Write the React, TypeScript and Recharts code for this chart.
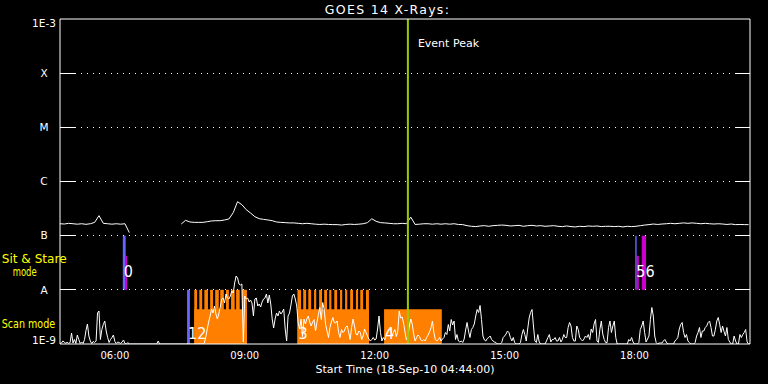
import React from 'react';
import { ComposedChart, Line, XAxis, YAxis, ReferenceLine, ReferenceArea, Label } from 'recharts';

// time axis: minutes after 18-Sep-10 04:44:00
const startMinute = 4 * 60 + 44;
const spanMinutes = 956;

// GOES 14 long channel, in units of 1E-7 W/m^2, one value every 6 min (null = no data)
const goesStep = 6;
const goesFlux = [
  1.66, 1.64, 1.69, 1.66, 1.63, 1.66, 1.62, 1.66, 1.76, 2.34,
  1.69, 1.66, 1.63, 1.66, 1.63, 1.66, 1.14, null, null, null,
  null, null, null, null, null, null, null, null, 1.64, 1.92,
  1.79, 1.76, 1.76, 1.76, 1.81, 1.87, 1.89, 1.89, 1.95, 2.03,
  2.66, 4.24, 3.73, 3.02, 2.62, 2.24, 2.06, 2.0, 1.95, 1.89,
  1.79, 1.76, 1.74, 1.72, 1.72, 1.69, 1.66, 1.69, 1.66, 1.63,
  1.61, 1.63, 1.61, 1.6, 1.6, 1.57, 1.61, 1.63, 1.61, 1.63,
  1.66, 1.74, 2.05, 1.84, 1.74, 1.72, 1.69, 1.66, 1.66, 1.69,
  1.66, 2.2, 1.61, 1.63, 1.66, 1.66, 1.63, 1.66, 1.63, 1.66,
  1.63, 1.66, 1.61, 1.6, 1.53, 1.49, 1.47, 1.51, 1.53, 1.49,
  1.53, 1.55, 1.57, 1.55, 1.51, 1.53, 1.55, 1.49, 1.53, 1.55,
  1.51, 1.53, 1.49, 1.51, 1.53, 1.49, 1.47, 1.51, 1.47, 1.45,
  1.49, 1.47, 1.51, 1.49, 1.51, 1.47, 1.49, 1.49, 1.47, 1.49,
  1.45, 1.49, 1.47, 1.49, 1.53, 1.57, 1.6, 1.64, 1.61, 1.64,
  1.66, 1.69, 1.66, 1.69, 1.72, 1.69, 1.72, 1.69, 1.66, 1.69,
  1.66, 1.64, 1.66, 1.64, 1.61, 1.64, 1.6, 1.61, 1.6, 1.6,
];

// scan-mode signal (arbitrary units), one value every 2 min
const scanStep = 2;
const scanSignal = [
  0, 0.2, 0.6, 0.4, 0.1, 0.4, 0.1, 0.3, 2.2, 0.2,
  0.9, 0.1, 1.8, 0.9, 0.1, 0.4, 0.1, 0.9, 2.7, 4.0,
  1.6, 0.6, 0.1, 0.5, 0.3, 0.6, 6.2, 6.6, 0.9, 2.9,
  3.9, 4.6, 2.6, 1.3, 0.3, 0.9, 1.3, 1.8, 0.5, 0.1,
  0.4, 0.3, 0.1, 0.4, 0.8, 0.1, 0, 0.3, 0, 0,
  0, 0, 0, 0, 0, 0, 0, 0, 0, 0,
  0, 0, 0, 0, 0, 0, 0, 0, 0.6, 0,
  0, 0, 0, 0, 0, 0, 0, 0, 0, 0,
  0, 0, 0, 0, 0, 0, 0, 0, 0, 0,
  0, 0, 0, 0, 0, 0, 0, 0, 0, 0,
  0.2, 1.4, 3.0, 4.4, 5.6, 7.0, 6.2, 7.6, 6.0, 5.0,
  6.0, 7.4, 9.0, 9.2, 8.2, 10.0, 9.2, 9.0, 9.6, 10.6,
  10.2, 12.2, 13.6, 13.2, 12.0, 11.8, 12.0, 0.4, 9.6, 9.0,
  9.2, 8.4, 8.8, 8.2, 5.6, 9.0, 9.2, 7.6, 8.0, 7.4,
  8.4, 9.0, 9.2, 10.0, 8.2, 9.8, 8.0, 5.0, 3.2, 5.0,
  6.2, 5.6, 6.6, 6.0, 6.4, 7.0, 3.0, 0.6, 5.6, 6.2,
  7.8, 9.6, 10.0, 9.0, 7.6, 4.2, 3.0, 5.0, 1.5, 5.0,
  4.0, 5.0, 5.6, 4.4, 3.6, 4.4, 4.9, 2.6, 4.3, 5.9,
  7.3, 4.9, 8.3, 6.9, 3.9, 2.6, 1.3, 3.3, 4.4, 5.3,
  4.3, 4.2, 4.6, 2.3, 1.3, 2.9, 2.3, 2.6, 3.4, 3.6,
  2.3, 0.9, 3.3, 5.0, 3.6, 2.0, 1.8, 2.6, 2.3, 0.9,
  1.6, 3.0, 2.3, 1.6, 1.0, 0.6, 0.9, 1.3, 0.8, 1.0,
  3.0, 5.6, 2.3, 0.6, 1.3, 0.8, 1.8, 2.6, 3.0, 3.2,
  1.6, 2.3, 2.9, 1.5, 2.6, 6.6, 5.2, 5.4, 4.2, 2.4,
  0.8, 1.6, 3.6, 5.0, 4.0, 2.0, 0.6, 1.3, 1.8, 1.5,
  0.8, 0.6, 0.9, 0.6, 1.3, 1.8, 2.4, 3.2, 4.6, 2.3,
  0.9, 0.6, 0.9, 1.3, 0.6, 1.0, 1.3, 2.3, 1.9, 3.9,
  2.6, 4.9, 3.8, 4.6, 0.9, 1.9, 0.6, 0.4, 0.6, 0.3,
  1.0, 2.8, 4.3, 2.6, 1.3, 2.9, 3.3, 4.0, 5.6, 6.9,
  6.3, 7.7, 4.9, 1.6, 0.8, 0.6, 1.1, 1.3, 1.6, 0.9,
  0.6, 0.4, 0.3, 0, 0, 0, 0.3, 1.3, 1.6, 2.0,
  2.6, 2.3, 1.3, 0.6, 1.3, 0.3, 0, 0, 0, 0.3,
  1.9, 2.9, 1.9, 0.6, 3.0, 5.2, 6.3, 6.9, 3.6, 0.6,
  0.3, 1.9, 0.4, 0, 0, 0, 0, 0.6, 1.3, 1.9,
  0.4, 0.9, 0.9, 1.3, 0.6, 0.6, 1.3, 0.4, 0.9, 1.9,
  1.3, 1.3, 3.3, 4.3, 3.6, 1.3, 0.6, 0.6, 3.6, 2.9,
  1.3, 0.9, 0.6, 1.0, 1.6, 1.3, 1.9, 0.9, 3.0, 2.3,
  4.0, 4.9, 0.6, 0.3, 2.9, 4.6, 2.0, 0.9, 0.3, 0.3,
  3.3, 4.6, 2.3, 3.6, 4.6, 1.3, 0, 0, 0, 0,
  0, 0, 0, 0, 0.9, 0.6, 1.3, 0.4, 0, 0,
  0, 0.3, 2.9, 3.6, 4.6, 2.3, 0.4, 1.0, 1.6, 4.9,
  7.3, 5.6, 1.6, 0.3, 0, 0.2, 0.2, 0.2, 0.6, 0.9,
  0.4, 0, 0, 0, 0, 0, 0.6, 0.9, 1.3, 3.0,
  3.9, 4.3, 2.3, 1.3, 1.9, 0.6, 0.3, 0, 0, 0,
  0.3, 1.6, 2.3, 3.3, 1.3, 2.6, 2.6, 3.3, 3.6, 4.3,
  4.6, 3.3, 1.6, 1.6, 2.9, 4.6, 5.3, 3.9, 2.3, 3.6,
  2.5, 1.6, 3.3, 0.9, 0.4, 0, 0, 1.6, 0.6, 0,
  0, 1.9, 1.3, 1.9, 2.3, 2.9, 0.4, 0, 0,
];

const fluxTicks = [1e-9, 1e-8, 1e-7, 1e-6, 1e-5, 1e-4, 1e-3];
const fluxLabels = ['1E-9', 'A', 'B', 'C', 'M', 'X', '1E-3'];
const gridLevels = [1e-8, 1e-7, 1e-6, 1e-5, 1e-4];
const labelTicks = [76, 256, 436, 616, 796];
const hourTicks = [16, 76, 136, 196, 256, 316, 376, 436, 496, 556, 616, 676, 736, 796, 856, 916];
const eventPeak = 482;

// observing programme (start, end minute)
const rasterStripes = [
  [186, 190], [193, 197], [200, 205], [208, 212], [215, 220], [222, 227], [230, 234], [237, 242], [244, 249], [252, 259],
  [329, 334], [337, 341], [344, 348], [352, 355], [359, 363], [366, 370], [373, 376], [380, 384], [388, 391], [395, 398],
  [402, 406], [410, 413], [416, 420], [424, 428],
];
const rasterBlocks = [[186, 259], [329, 428], [449, 529]];
const rasterBlockTop = 4.4e-9;
const scanStarts = [[176, 180]];
const sitStareStarts = [[87, 91], [797, 799]];
const sitStarePartial = [[90, 93], [799, 802]];
const sitStarePartialTop = 4.25e-8;
const sitStareFull = [[806, 812]];
const sitStareNames = ['0', '56'];
const scanNames = [
  { range: scanStarts[0], text: '12' },
  { range: rasterBlocks[1], text: '3' },
  { range: rasterBlocks[2], text: '4' },
];

const goesData = goesFlux.map((v, i) => ({ t: i * goesStep, flux: v == null ? null : v * 1e-7 }));
const scanData = scanSignal.map((v, i) => ({ t: i * scanStep, signal: v }));

const font = 'DejaVu Sans, sans-serif';
const WHITE = '#ffffff';
const YELLOW = '#ffff00';
const ORANGE = '#ff8000';
const BLUE = '#6464ff';
const MAGENTA = '#cc00cc';

const clock = (t: number) => {
  const m = startMinute + t;
  return `${String(Math.floor(m / 60)).padStart(2, '0')}:${String(m % 60).padStart(2, '0')}`;
};

const FluxTick = (p: any) => {
  const idx = fluxTicks.findIndex((v) => Math.abs(v - p.payload.value) / v < 1e-6);
  const shift = idx === 0 ? -4 : idx === fluxTicks.length - 1 ? 4 : 0;
  return (
    <text x={p.x} y={p.y + shift} dy="0.36em" textAnchor="middle" fill={WHITE} fontSize={10.5} fontFamily={font}>
      {fluxLabels[idx]}
    </text>
  );
};

const HourTick = (p: any) => {
  const major = labelTicks.includes(p.payload.value);
  return <line x1={p.x} x2={p.x} y1={p.y} y2={p.y + (major ? 7 : 3)} stroke={WHITE} shapeRendering="crispEdges" />;
};

const gridShape = (p: any) => (
  <g shapeRendering="crispEdges">
    <line x1={p.x1} x2={p.x1 + 15} y1={p.y1} y2={p.y2} stroke={WHITE} />
    <line x1={p.x1 + 15} x2={p.x2 - 14} y1={p.y1} y2={p.y2} stroke={WHITE} strokeDasharray="1 5" />
    <line x1={p.x2 - 14} x2={p.x2} y1={p.y1} y2={p.y2} stroke={WHITE} />
  </g>
);

const obsLabel = (text: string, lift: number) => (props: any) => {
  const vb = props.viewBox;
  return (
    <text x={vb.x + 1} y={vb.y + vb.height - lift} fill={WHITE} fontSize={16}
      fontFamily="'Liberation Sans Narrow', 'DejaVu Sans Condensed', sans-serif">
      {text}
    </text>
  );
};

const peakLabel = (props: any) => {
  const vb = props.viewBox;
  return (
    <text x={vb.x + 10} y={vb.y + 28} fill={WHITE} fontSize={11} fontFamily={font}>
      Event Peak
    </text>
  );
};

export default function App() {
  return (
    <div style={{ position: 'absolute', left: 0, top: 0, width: 768, height: 384, background: '#000' }}>
      <ComposedChart width={768} height={384} margin={{ top: 0, right: 18, bottom: 0, left: 0 }}>
        <XAxis xAxisId="t" orientation="top" type="number" domain={[0, spanMinutes]} allowDataOverflow
          ticks={hourTicks} interval={0} height={19} tickSize={0} tickMargin={0} tickLine={false}
          axisLine={{ stroke: WHITE }} tick={HourTick} />
        <XAxis xAxisId="b" dataKey="t" type="number" domain={[0, spanMinutes]} allowDataOverflow
          ticks={labelTicks} interval={0} height={40} tickSize={0} tickMargin={7.5} tickLine={false}
          axisLine={{ stroke: WHITE }} tickFormatter={clock}
          tick={{ fill: WHITE, fontSize: 10, fontFamily: font }}>
          <Label value="Start Time (18-Sep-10 04:44:00)" position="insideBottom" offset={11}
            fill={WHITE} fontSize={11} fontFamily={font} />
        </XAxis>
        <YAxis yAxisId="flux" type="number" scale="log" domain={[1e-9, 1e-3]} allowDataOverflow
          ticks={fluxTicks} interval={0} width={60} tickSize={0} tickMargin={16} tickLine={false}
          axisLine={{ stroke: WHITE }} tick={FluxTick} />
        <YAxis yAxisId="scan" type="number" domain={[0, 65]} allowDataOverflow hide />

        {rasterBlocks.map(([a, b], i) => (
          <ReferenceArea key={`blk${i}`} xAxisId="b" yAxisId="flux" x1={a} x2={b} y1={1e-9} y2={rasterBlockTop}
            fill={ORANGE} fillOpacity={1} stroke="none" />
        ))}
        {rasterStripes.map(([a, b], i) => (
          <ReferenceArea key={`str${i}`} xAxisId="b" yAxisId="flux" x1={a} x2={b} y1={1e-9} y2={1e-8}
            fill={ORANGE} fillOpacity={1} stroke="none" />
        ))}
        {scanStarts.map(([a, b], i) => (
          <ReferenceArea key={`sb${i}`} xAxisId="b" yAxisId="flux" x1={a} x2={b} y1={1e-9} y2={1e-8}
            fill={BLUE} fillOpacity={1} stroke="none" />
        ))}
        {sitStareStarts.map(([a, b], i) => (
          <ReferenceArea key={`ssb${i}`} xAxisId="b" yAxisId="flux" x1={a} x2={b} y1={1e-8} y2={1e-7}
            fill={BLUE} fillOpacity={1} stroke="none" />
        ))}
        {sitStarePartial.map(([a, b], i) => (
          <ReferenceArea key={`ssp${i}`} xAxisId="b" yAxisId="flux" x1={a} x2={b} y1={1e-8} y2={sitStarePartialTop}
            fill={MAGENTA} fillOpacity={1} stroke="none" />
        ))}
        {sitStareFull.map(([a, b], i) => (
          <ReferenceArea key={`ssf${i}`} xAxisId="b" yAxisId="flux" x1={a} x2={b} y1={1e-8} y2={1e-7}
            fill={MAGENTA} fillOpacity={1} stroke="none" />
        ))}

        {gridLevels.map((v) => (
          <ReferenceLine key={`g${v}`} xAxisId="b" yAxisId="flux" y={v} shape={gridShape} />
        ))}
        <ReferenceLine xAxisId="b" yAxisId="flux" x={spanMinutes} stroke={WHITE} ifOverflow="visible" />

        <Line xAxisId="b" yAxisId="scan" data={scanData} dataKey="signal" type="linear" stroke={WHITE}
          strokeWidth={1} dot={false} activeDot={false} isAnimationActive={false} />
        <Line xAxisId="b" yAxisId="flux" data={goesData} dataKey="flux" type="linear" stroke={WHITE}
          strokeWidth={1} dot={false} activeDot={false} connectNulls={false} isAnimationActive={false} />

        {sitStareStarts.map(([a, b], i) => (
          <ReferenceArea key={`ssl${i}`} xAxisId="b" yAxisId="flux" x1={a} x2={b} y1={1e-8} y2={1e-7}
            fill="none" stroke="none" label={obsLabel(sitStareNames[i], 13)} />
        ))}
        {scanNames.map(({ range, text }, i) => (
          <ReferenceArea key={`scl${i}`} xAxisId="b" yAxisId="flux" x1={range[0]} x2={range[1]} y1={1e-9} y2={1e-8}
            fill="none" stroke="none" label={obsLabel(text, 5)} />
        ))}

        <ReferenceLine xAxisId="b" yAxisId="flux" x={eventPeak} stroke="#99cc00" strokeWidth={2} label={peakLabel} />
      </ComposedChart>

      <svg width={768} height={384} style={{ position: 'absolute', left: 0, top: 0, pointerEvents: 'none' }}>
        <text x={387.5} y={13.5} textAnchor="middle" fill={WHITE} fontSize={12.5} letterSpacing={1.3} fontFamily={font}>
          GOES 14 X-Rays:
        </text>
        <text x={1.7} y={262.5} fill={YELLOW} fontSize={11.5} fontFamily={font}
          textLength={65} lengthAdjust="spacingAndGlyphs">Sit &amp; Stare</text>
        <text x={12.7} y={276} fill={YELLOW} fontSize={11.5} fontFamily={font}
          textLength={24} lengthAdjust="spacingAndGlyphs">mode</text>
        <text x={1.7} y={328.3} fill={YELLOW} fontSize={11.5} fontFamily={font}
          textLength={53.5} lengthAdjust="spacingAndGlyphs">Scan mode</text>
      </svg>
    </div>
  );
}
